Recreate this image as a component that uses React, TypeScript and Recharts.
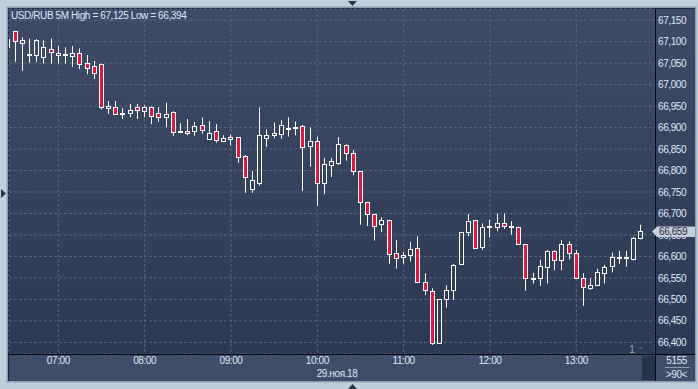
import React from 'react';
import { ComposedChart, Bar, XAxis, YAxis, CartesianGrid } from 'recharts';

const times = [
  '06:25','06:30','06:35','06:40','06:45','06:50','06:55',
  '07:00','07:05','07:10','07:15','07:20','07:25','07:30','07:35','07:40','07:45','07:50','07:55',
  '08:00','08:05','08:10','08:15','08:20','08:25','08:30','08:35','08:40','08:45','08:50','08:55',
  '09:00','09:05','09:10','09:15','09:20','09:25','09:30','09:35','09:40','09:45','09:50','09:55',
  '10:00','10:05','10:10','10:15','10:20','10:25','10:30','10:35','10:40','10:45','10:50','10:55',
  '11:00','11:05','11:10','11:15','11:20','11:25','11:30','11:35','11:40','11:45','11:50','11:55',
  '12:00','12:05','12:10','12:15','12:20','12:25','12:30','12:35','12:40','12:45','12:50','12:55',
  '13:00','13:05','13:10','13:15','13:20','13:25','13:30','13:35','13:40','13:45',
];

const opens = [
  67.088,67.124,67.098,67.069,67.069,67.065,67.082,
  67.069,67.069,67.067,67.073,67.050,67.043,67.048,66.945,66.948,66.932,66.933,66.948,
  66.938,66.948,66.934,66.925,66.936,66.893,66.893,66.892,66.906,66.874,66.892,66.868,
  66.874,66.877,66.835,66.758,66.771,66.876,66.882,66.886,66.897,66.899,66.903,66.858,
  66.869,66.771,66.813,66.818,66.859,66.840,66.798,66.726,66.698,66.675,66.684,66.607,
  66.598,66.604,66.619,66.540,66.520,66.399,66.500,66.521,66.583,66.657,66.684,66.623,
  66.669,66.668,66.677,66.671,66.668,66.628,66.550,66.549,66.575,66.612,66.591,66.629,
  66.607,66.549,66.526,66.533,66.561,66.577,66.597,66.598,66.595,66.642,
];

const highs = [
  67.110,67.125,67.110,67.107,67.106,67.103,67.107,
  67.090,67.087,67.090,67.084,67.069,67.055,67.049,66.962,66.962,66.945,66.955,66.955,
  66.952,66.949,66.948,66.958,66.938,66.910,66.920,66.913,66.924,66.915,66.908,66.882,
  66.884,66.878,66.836,66.799,66.947,66.896,66.912,66.917,66.924,66.914,66.906,66.900,
  66.879,66.829,66.829,66.878,66.861,66.848,66.799,66.727,66.699,66.691,66.685,66.638,
  66.610,66.634,66.647,66.561,66.526,66.501,66.533,66.582,66.657,66.699,66.685,66.677,
  66.685,66.700,66.700,66.682,66.670,66.629,66.562,66.592,66.615,66.615,66.638,66.635,
  66.615,66.561,66.549,66.571,66.580,66.609,66.613,66.613,66.646,66.674,
];

const lows = [
  67.085,67.053,67.032,67.051,67.053,67.049,67.049,
  67.049,67.049,67.041,67.036,67.024,67.013,66.942,66.932,66.929,66.920,66.924,66.920,
  66.924,66.908,66.913,66.901,66.881,66.887,66.882,66.881,66.886,66.873,66.865,66.866,
  66.859,66.818,66.748,66.748,66.765,66.855,66.875,66.874,66.879,66.882,66.752,66.809,
  66.718,66.745,66.785,66.813,66.823,66.789,66.674,66.671,66.637,66.657,66.583,66.572,
  66.583,66.588,66.538,66.510,66.394,66.398,66.481,66.499,66.581,66.647,66.617,66.615,
  66.644,66.659,66.664,66.651,66.627,66.520,66.537,66.532,66.537,66.568,66.568,66.593,
  66.548,66.485,66.522,66.531,66.537,66.563,66.583,66.576,66.591,66.640,
];

const closes = [
  67.107,67.101,67.104,67.071,67.103,67.087,67.075,
  67.073,67.072,67.073,67.047,67.039,67.027,66.948,66.950,66.932,66.934,66.940,66.940,
  66.948,66.927,66.925,66.932,66.890,66.889,66.888,66.903,66.895,66.887,66.872,66.876,
  66.878,66.831,66.786,66.777,66.882,66.882,66.887,66.907,66.900,66.902,66.854,66.869,
  66.771,66.815,66.822,66.861,66.840,66.798,66.726,66.698,66.672,66.684,66.605,66.596,
  66.603,66.617,66.540,66.521,66.398,66.500,66.523,66.581,66.656,66.682,66.620,66.668,
  66.671,66.677,66.672,66.670,66.628,66.549,66.551,66.577,66.612,66.591,66.628,66.607,
  66.549,66.528,66.533,66.563,66.575,66.598,66.599,66.599,66.642,66.659,
];

const hourTicks = ['07:00','08:00','09:00','10:00','11:00','12:00','13:00'];
const priceTicks = [66.40,66.45,66.50,66.55,66.60,66.65,66.70,66.75,66.80,66.85,66.90,66.95,67.00,67.05,67.10,67.15];
const titleText = 'USD/RUB 5M High = 67,125 Low = 66,394';
const dateLabel = '29.ноя.18';
const lastPrice = '66,659';
const infoTop = '5155';
const infoBottom = '>90<';

const toMin = (s: string) => {
  const [h, m] = s.split(':').map(Number);
  return h * 60 + m;
};
const fmtMin = (v: number) => {
  const h = Math.floor(v / 60);
  const m = Math.round(v % 60);
  return `${String(h).padStart(2, '0')}:${String(m).padStart(2, '0')}`;
};
const fmtPrice = (v: number) => v.toFixed(3).replace('.', ',');

const data = times.map((t, i) => ({
  t: toMin(t),
  o: opens[i],
  h: highs[i],
  l: lows[i],
  c: closes[i],
  range: [lows[i], highs[i]],
}));

const FONT = '"Liberation Sans", Arial, sans-serif';
const TEXT = '#dde8f6';

const Candle = (props: any) => {
  const { x, y, width, height } = props;
  const p = props.payload ?? props;
  const { o, h, l, c } = p;
  if (x == null || y == null || !isFinite(height)) return null;
  const ppu = h - l > 0 ? height / (h - l) : 0;
  const center = x + width / 2;
  const cx = Math.floor(center) + 0.5;
  const top = y + (h - Math.max(o, c)) * ppu;
  const bot = y + (h - Math.min(o, c)) * ppu;
  const bull = c >= o;
  const bTop = Math.round(top) + 0.5;
  let bBot = Math.round(bot) + 0.5;
  if (bBot - bTop < 1) bBot = bTop + 1;
  return (
    <g>
      <line x1={cx} x2={cx} y1={y} y2={bTop} stroke="#ffffff" strokeWidth={1} />
      <line x1={cx} x2={cx} y1={bBot} y2={y + height} stroke="#ffffff" strokeWidth={1} />
      <rect x={cx - 2} y={bTop} width={4} height={bBot - bTop}
        fill={bull ? 'none' : '#e3173e'} stroke="#ffffff" strokeWidth={1} />
    </g>
  );
};

export default function App() {
  return (
    <div style={{ position: 'absolute', left: 0, top: 0, width: 698, height: 389, overflow: 'hidden' }}>
      <svg width={698} height={389} style={{ position: 'absolute', left: 0, top: 0 }}>
        <defs>
          <linearGradient id="bg" x1="0" y1="0" x2="0" y2="1">
            <stop offset="0" stopColor="#3e4b66" />
            <stop offset="1" stopColor="#2d3953" />
          </linearGradient>
        </defs>
        <rect x={0} y={0} width={698} height={389} fill="#c3cedb" />
        <rect x={6} y={6} width={691} height={377} fill="#a9b6c6" />
        <rect x={7} y={7} width={689} height={375} fill="#8d9bb0" />
        <rect x={8} y={8} width={687} height={373} fill="#1c2435" />
        <rect x={9} y={9} width={686} height={345} fill="url(#bg)" />
        <rect x={9} y={355} width={686} height={26} fill="#3f4d68" />
        <rect x={642} y={356} width={13} height={24} fill="#28334b" />
        <polygon points="348,1 357,1 352.5,6" fill="#2b3447" />
        <polygon points="348,389 357,389 352.5,384" fill="#2b3447" />
        <polygon points="1,189 1,198 6,193.5" fill="#2b3447" />
      </svg>
      <div style={{ position: 'absolute', left: 0, top: 0 }}>
        <ComposedChart width={698} height={389} data={data}
          margin={{ top: 9, right: 3, bottom: 8, left: 9 }}>
          <CartesianGrid stroke="#566585" strokeDasharray="3 2" />
          <XAxis dataKey="t" type="number" domain={[385.7, 834.7]} allowDataOverflow
            ticks={hourTicks.map(toMin)} tickFormatter={fmtMin} interval={0}
            tickLine={false} axisLine={false} tickSize={0} tickMargin={3} height={27}
            tick={{ fill: TEXT, fontSize: 10, fontFamily: FONT, letterSpacing: -0.4 }} />
          <YAxis orientation="right" type="number" domain={[66.373, 67.176]} allowDataOverflow
            ticks={priceTicks} tickFormatter={fmtPrice} interval={0} width={40}
            tickLine={false} axisLine={false} tickSize={0} tickMargin={3}
            tick={{ fill: TEXT, fontSize: 10, fontFamily: FONT, letterSpacing: -0.4 }} />
          <Bar dataKey="range" barSize={5} isAnimationActive={false} shape={Candle} />
        </ComposedChart>
      </div>
      <svg width={698} height={389} style={{ position: 'absolute', left: 0, top: 0, pointerEvents: 'none' }}>
        <line x1={9} x2={695} y1={354.5} y2={354.5} stroke="#05080f" />
        <line x1={655.5} x2={655.5} y1={9} y2={381} stroke="#05080f" />
        <text x={11} y={19} fill={TEXT} fontSize={10} fontFamily={FONT} letterSpacing={-0.4}>{titleText}</text>
        <text x={337} y={377} fill={TEXT} fontSize={10} fontFamily={FONT} letterSpacing={-0.4} textAnchor="middle">{dateLabel}</text>
        <polygon points="652,231.5 657,226.5 695,226.5 695,237 657,237" fill="#c6ceda" />
        <text x={659} y={235} fill="#263043" fontSize={10} fontFamily={FONT} letterSpacing={-0.4}>{lastPrice}</text>
        <text x={687} y={364} fill={TEXT} fontSize={10} fontFamily={FONT} letterSpacing={-0.4} textAnchor="end">{infoTop}</text>
        <line x1={665} x2={690} y1={367.5} y2={367.5} stroke="#8f9cb0" />
        <text x={687} y={378} fill={TEXT} fontSize={10} fontFamily={FONT} letterSpacing={-0.4} textAnchor="end">{infoBottom}</text>
        <text x={632} y={353} fill="#9aa6b8" fontSize={10} fontFamily={FONT} textAnchor="middle">1</text>
        <polygon points="638,349 643,349 640.5,346" fill="#4a5670" />
      </svg>
    </div>
  );
}
